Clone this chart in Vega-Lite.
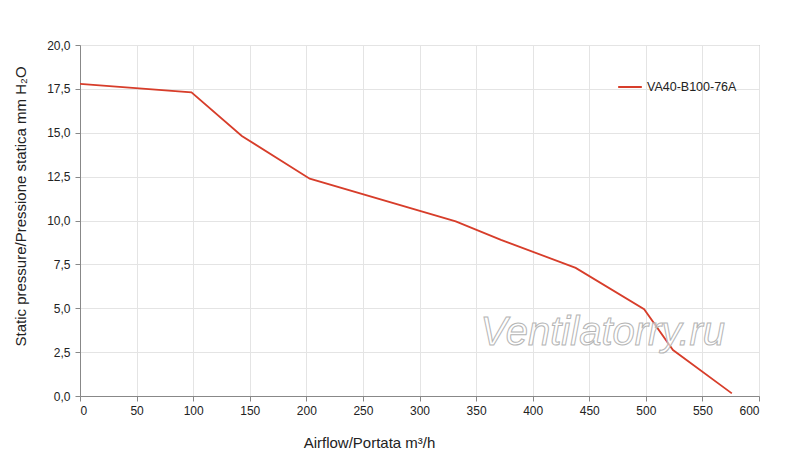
{
  "$schema": "https://vega.github.io/schema/vega-lite/v6.json",
  "width": 679,
  "height": 351,
  "autosize": {"type": "none"},
  "padding": {"left": 80, "top": 45, "right": 41, "bottom": 75},
  "background": "white",
  "config": {
    "font": "Liberation Sans",
    "view": {"stroke": "#999999", "strokeWidth": 1},
    "axis": {
      "labelFont": "Liberation Sans",
      "titleFont": "Liberation Sans",
      "labelFontSize": 12,
      "labelColor": "#222222",
      "titleFontSize": 15,
      "titleFontWeight": "normal",
      "titleColor": "#222222",
      "domainColor": "#888888",
      "tickColor": "#888888",
      "gridColor": "#e4e4e4",
      "tickSize": 5
    }
  },
  "layer": [
    {
      "data": {"values": [
        {"airflow": 0, "pressure": 17.78, "model": "VA40-B100-76A"},
        {"airflow": 98.5, "pressure": 17.3, "model": "VA40-B100-76A"},
        {"airflow": 143, "pressure": 14.82, "model": "VA40-B100-76A"},
        {"airflow": 203, "pressure": 12.38, "model": "VA40-B100-76A"},
        {"airflow": 332, "pressure": 9.95, "model": "VA40-B100-76A"},
        {"airflow": 372, "pressure": 8.9, "model": "VA40-B100-76A"},
        {"airflow": 438, "pressure": 7.3, "model": "VA40-B100-76A"},
        {"airflow": 498.5, "pressure": 4.95, "model": "VA40-B100-76A"},
        {"airflow": 524, "pressure": 2.62, "model": "VA40-B100-76A"},
        {"airflow": 576, "pressure": 0.15, "model": "VA40-B100-76A"}
      ]},
      "mark": {"type": "line", "strokeWidth": 1.8},
      "encoding": {
        "x": {
          "field": "airflow", "type": "quantitative",
          "scale": {"domain": [0, 600], "nice": false, "zero": true},
          "axis": {
            "values": [0, 50, 100, 150, 200, 250, 300, 350, 400, 450, 500, 550, 600],
            "title": "Airflow/Portata  m³/h",
            "titleX": 289, "titleY": 51, "titleAlign": "center", "titleBaseline": "alphabetic",
            "labelPadding": 4
          }
        },
        "y": {
          "field": "pressure", "type": "quantitative",
          "scale": {"domain": [0, 20], "nice": false},
          "axis": {
            "values": [0, 2.5, 5, 7.5, 10, 12.5, 15, 17.5, 20],
            "labelExpr": "replace(format(datum.value, '.1f'), '.', ',')",
            "title": "Static pressure/Pressione statica  mm  H₂O",
            "titleX": -55, "titleY": 161, "titleAlign": "center", "titleBaseline": "alphabetic", "titleAngle": -90,
            "labelPadding": 5
          }
        },
        "color": {
          "field": "model", "type": "nominal",
          "scale": {"range": ["#d73d2a"]},
          "legend": {
            "title": null,
            "orient": "none",
            "legendX": 537,
            "legendY": 29,
            "symbolType": "stroke",
            "symbolStrokeWidth": 2,
            "symbolSize": 560,
            "labelFont": "Liberation Sans",
            "labelFontSize": 12.5,
            "labelColor": "#222222"
          }
        }
      }
    },
    {
      "data": {"values": [{"label": "Ventilatorry.ru", "airflow": 462, "pressure": 2.9}]},
      "mark": {
        "type": "text",
        "font": "Liberation Sans",
        "fontStyle": "italic",
        "fontSize": 40,
        "fill": "white",
        "fillOpacity": 0.6,
        "stroke": "#b5b5b5",
        "strokeWidth": 1,
        "align": "center",
        "baseline": "alphabetic"
      },
      "encoding": {
        "x": {"field": "airflow", "type": "quantitative"},
        "y": {"field": "pressure", "type": "quantitative"},
        "text": {"field": "label"}
      }
    }
  ]
}
